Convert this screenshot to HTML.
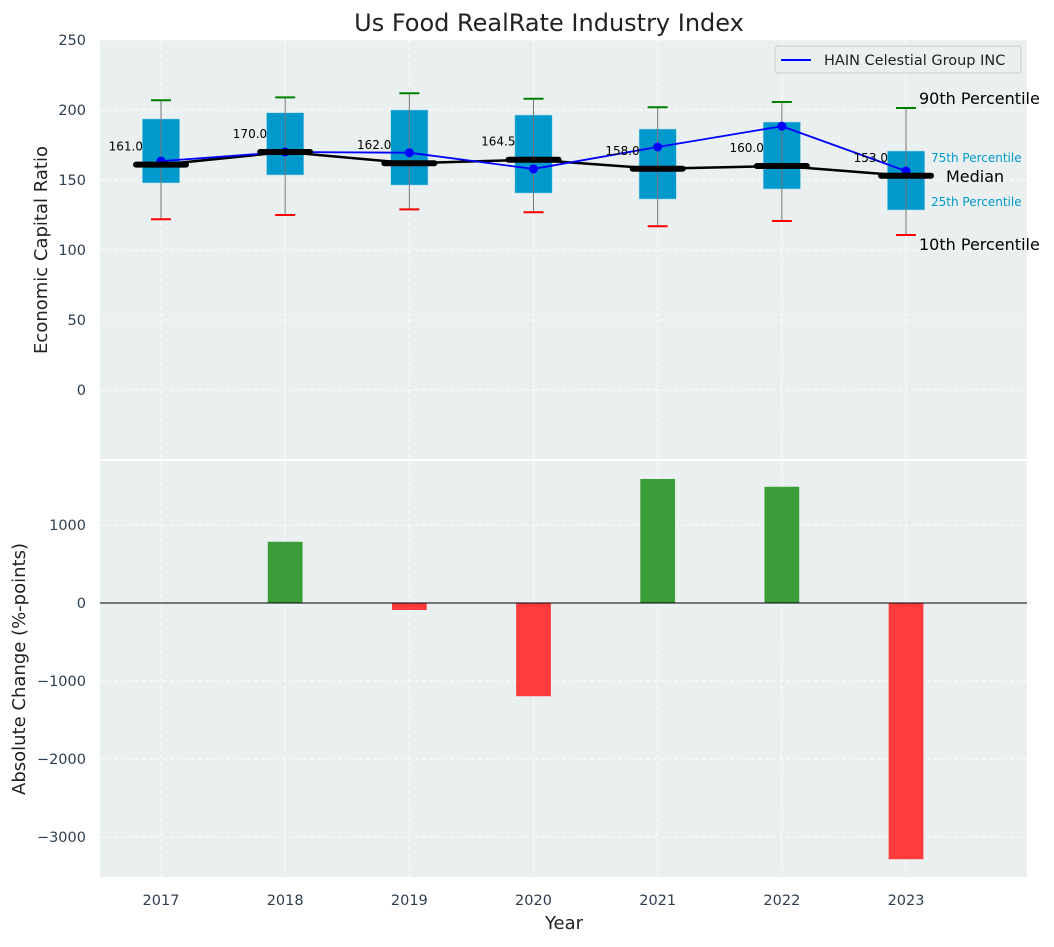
<!DOCTYPE html>
<html><head><meta charset="utf-8"><style>
body{margin:0;background:#fff;font-family:"Liberation Sans","DejaVu Sans",sans-serif;}
svg text{font-family:"DejaVu Sans","Liberation Sans",sans-serif;}
</style></head><body>
<svg id="c" width="1054" height="942" xmlns="http://www.w3.org/2000/svg"></svg>
<script>
const years=[2017,2018,2019,2020,2021,2022,2023];
const p10=[122,125,129,127,117,120.7,110.7];
const q1=[147.9,153.6,146.4,140.7,136.4,143.6,128.6];
const median=[161,170,162,164.5,158,160,153];
const q3=[193.6,198,200,196.4,186.4,191.4,170.7];
const p90=[207,209,212,208,202,205.7,201.4];
const hain=[163.5,170,169.5,157.9,173.6,188.4,156.4];
const changes=[0,785,-90,-1195,1590,1490,-3285];
const yTicksTop=[0,50,100,150,200,250];
const yTicksBot=[-3000,-2000,-1000,0,1000];

const NS="http://www.w3.org/2000/svg";
const svg=document.getElementById('c');
function el(t,a,p){const e=document.createElementNS(NS,t);for(const k in a)e.setAttribute(k,a[k]);(p||svg).appendChild(e);return e;}
const L=100,R=1027;
const x=v=>161+(v-2017)*124.17;
const yT=v=>390-v*1.4;
const yB=v=>603-v*0.078;
const pw=124.17;
let bg1=el('rect',{x:L,y:40,width:R-L,height:419,fill:'#eaeff0'});

let bg2=el('rect',{x:L,y:461,width:R-L,height:416,fill:'#eaeff0'});

years.forEach(yr=>{
 el('line',{x1:x(yr),x2:x(yr),y1:40,y2:459,stroke:'#fff','stroke-dasharray':'4,3','stroke-width':1});
 el('line',{x1:x(yr),x2:x(yr),y1:461,y2:877,stroke:'#fff','stroke-dasharray':'4,3','stroke-width':1});
 let t=el('text',{x:x(yr),y:905,'text-anchor':'middle','font-size':14.5,fill:'#2d3e50'});t.textContent=yr;
 
});
yTicksTop.forEach(v=>{
 el('line',{x1:L,x2:R,y1:yT(v),y2:yT(v),stroke:'#fff','stroke-dasharray':'4,3'});
 let t=el('text',{x:86,y:yT(v)+5,'text-anchor':'end','font-size':14.5,fill:'#2d3e50'});t.textContent=v;
 
});
yTicksBot.forEach(v=>{
 el('line',{x1:L,x2:R,y1:yB(v),y2:yB(v),stroke:'#fff','stroke-dasharray':'4,3'});
 let t=el('text',{x:86,y:yB(v)+5,'text-anchor':'end','font-size':14.5,fill:'#2d3e50'});t.textContent=v<0?'\u2212'+(-v):v;
 
});
years.forEach((yr,i)=>{
 const cx=x(yr);
 let b=el('rect',{x:cx-0.15*pw,y:yT(q3[i]),width:0.3*pw,height:yT(q1[i])-yT(q3[i]),fill:'#0099cc',stroke:'#a8d8ea','stroke-width':0.5});
 
 el('line',{x1:cx,x2:cx,y1:yT(p90[i]),y2:yT(p10[i]),stroke:'#777','stroke-width':1});
 let g=el('line',{x1:cx-10,x2:cx+10,y1:yT(p90[i]),y2:yT(p90[i]),stroke:'green','stroke-width':2});
 
 let r=el('line',{x1:cx-10,x2:cx+10,y1:yT(p10[i]),y2:yT(p10[i]),stroke:'red','stroke-width':2});
 
});
let mp=years.map((yr,i)=>x(yr)+','+yT(median[i])).join(' ');
let ml=el('polyline',{points:mp,fill:'none',stroke:'#000','stroke-width':2.5});

let hp=years.map((yr,i)=>x(yr)+','+yT(hain[i])).join(' ');
let hl=el('polyline',{points:hp,fill:'none',stroke:'#0000ff','stroke-width':1.8});

years.forEach((yr,i)=>{
 let c=el('circle',{cx:x(yr),cy:yT(hain[i]),r:4.5,fill:'#0000ff'});
 
});
years.forEach((yr,i)=>{
 const cx=x(yr);
 let m=el('line',{x1:cx-25,x2:cx+25,y1:yT(median[i]),y2:yT(median[i]),stroke:'#000','stroke-width':6,'stroke-linecap':'round'});
 
 let t=el('text',{x:cx-18,y:yT(median[i])-14,'text-anchor':'end','font-size':12,fill:'#000'});t.textContent=median[i].toFixed(1);
 
});
const li=6;
[['90th Percentile',p90[li],919,16,'#000',-4],['10th Percentile',p10[li],919,16,'#000',15],
 ['75th Percentile',q3[li],931,12,'#0099cc',11],['25th Percentile',q1[li],931,12,'#0099cc',-4],['Median',median[li],946,16,'#000',6]].forEach(a=>{
 let t=el('text',{x:a[2],y:yT(a[1])+a[5],'font-size':a[3],fill:a[4]});t.textContent=a[0];
 
});
let lg=el('g',{});
el('rect',{x:775,y:46,width:246,height:27,rx:3,fill:'#eaeff0',stroke:'#ccc'},lg);
el('line',{x1:781,x2:811,y1:60,y2:60,stroke:'#0000ff','stroke-width':2},lg);
let lt=el('text',{x:824,y:65,'font-size':14.5,fill:'#222'},lg);lt.textContent='HAIN Celestial Group INC';
years.forEach((yr,i)=>{
 const v=changes[i];
 let b=el('rect',{x:x(yr)-0.14*pw,y:Math.min(yB(v),yB(0)),width:0.28*pw,height:Math.abs(yB(v)-yB(0)),fill:v>=0?'#3a9d3a':'#ff3b3b'});
 
});
el('line',{x1:L,x2:R,y1:yB(0),y2:yB(0),stroke:'#000','stroke-width':1});
let tt=el('text',{x:549,y:31,'text-anchor':'middle','font-size':24,fill:'#222'});tt.textContent='Us Food RealRate Industry Index';

let y1=el('text',{x:47,y:250,'text-anchor':'middle','font-size':18,fill:'#222',transform:'rotate(-90 47 250)'});y1.textContent='Economic Capital Ratio';

let y2=el('text',{x:25,y:669,'text-anchor':'middle','font-size':18,fill:'#222',transform:'rotate(-90 25 669)'});y2.textContent='Absolute Change (%-points)';

let xt=el('text',{x:564,y:929,'text-anchor':'middle','font-size':18,fill:'#222'});xt.textContent='Year';

</script>
</body></html>
